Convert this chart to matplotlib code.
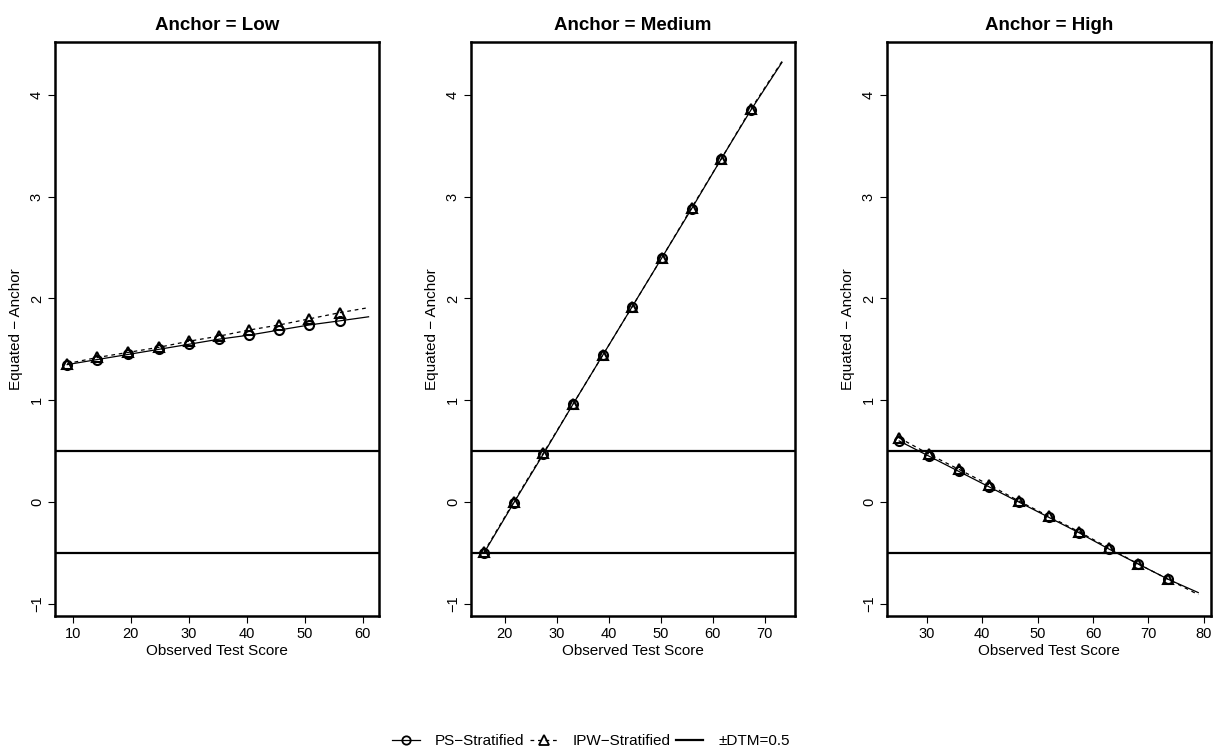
import matplotlib
matplotlib.use("Agg")
import matplotlib.pyplot as plt
from matplotlib.lines import Line2D
import numpy as np

plt.rcParams['font.family'] = ['Liberation Sans', 'DejaVu Sans']

# observed score at each marker, last value is the line end point
x_low = [9, 14.2, 19.5, 24.8, 30, 35.2, 40.4, 45.6, 50.8, 56, 61]
ps_low = [1.35, 1.40, 1.45, 1.50, 1.55, 1.60, 1.64, 1.69, 1.74, 1.78, 1.82]
ipw_low = [1.36, 1.42, 1.47, 1.52, 1.58, 1.63, 1.69, 1.74, 1.80, 1.86, 1.91]

x_med = [16, 21.7, 27.4, 33.1, 38.8, 44.5, 50.2, 55.9, 61.6, 67.3, 73.3]
ps_med = [-0.50, -0.01, 0.47, 0.96, 1.44, 1.92, 2.40, 2.88, 3.37, 3.85, 4.32]
ipw_med = [-0.49, 0.00, 0.48, 0.96, 1.44, 1.92, 2.40, 2.89, 3.37, 3.86, 4.33]

x_high = [25, 30.4, 35.8, 41.2, 46.6, 52, 57.4, 62.8, 68.2, 73.6, 79]
ps_high = [0.60, 0.45, 0.30, 0.15, 0.00, -0.15, -0.30, -0.46, -0.61, -0.76, -0.89]
ipw_high = [0.63, 0.47, 0.32, 0.17, 0.01, -0.14, -0.29, -0.45, -0.61, -0.76, -0.91]

dtm = 0.5
titles = ["Anchor = Low", "Anchor = Medium", "Anchor = High"]
xlims = [(6.9, 62.8), (13.5, 75.8), (22.8, 81.3)]
xticks = [[10, 20, 30, 40, 50, 60], [20, 30, 40, 50, 60, 70], [30, 40, 50, 60, 70, 80]]
panels = [(x_low, ps_low, ipw_low), (x_med, ps_med, ipw_med), (x_high, ps_high, ipw_high)]

W, H = 1219, 753
fig = plt.figure(figsize=(W / 100, H / 100), dpi=100)
lefts = [55, 471, 887]

for i, (xs, ps, ipw) in enumerate(panels):
    ax = fig.add_axes([lefts[i] / W, 1 - 616 / H, 324 / W, 574 / H])
    xs = np.array(xs)
    ax.plot(xs, ps, color='black', lw=0.9)
    ax.plot(xs, ipw, color='black', lw=0.9, dashes=(3, 3))
    ax.plot(xs[:-1], ps[:-1], ls='none', marker='o', ms=6.5, mfc='none', mec='black', mew=1.5)
    ax.plot(xs[:-1], ipw[:-1], ls='none', marker='^', ms=7, mfc='none', mec='black', mew=1.5)
    ax.axhline(dtm, color='black', lw=1.6)
    ax.axhline(-dtm, color='black', lw=1.6)
    ax.set_xlim(*xlims[i])
    ax.set_ylim(-1.12, 4.52)
    ax.set_xticks(xticks[i])
    ax.set_yticks([-1, 0, 1, 2, 3, 4])
    ax.set_yticklabels(['\u22121', '0', '1', '2', '3', '4'], rotation=90, va='center')
    ax.tick_params(direction='out', length=5, width=0.8, labelsize=10.5, colors='black', pad=3)
    for s in ax.spines.values():
        s.set_linewidth(1.8)
    ax.set_title(titles[i], fontsize=13.5, fontweight='bold', pad=9)
    ax.set_xlabel("Observed Test Score", fontsize=11, labelpad=2)
    ax.set_ylabel("Equated \u2212 Anchor", fontsize=11, labelpad=5)

handles = [
    Line2D([], [], color='black', lw=0.9, marker='o', ms=6, mfc='none', mew=1.3),
    Line2D([], [], color='black', lw=0.9, dashes=(3, 3), marker='^', ms=6.5, mfc='none', mew=1.3),
    Line2D([], [], color='black', lw=1.6),
]
fig.legend(handles, ['PS\u2212Stratified', 'IPW\u2212Stratified', '\u00b1DTM=0.5'],
           loc='center', bbox_to_anchor=(0.485, 1 - 741 / H), ncol=3, frameon=False,
           fontsize=11, handlelength=1.8, columnspacing=0.35, handletextpad=1.0)

fig.savefig("out.png", dpi=100)
